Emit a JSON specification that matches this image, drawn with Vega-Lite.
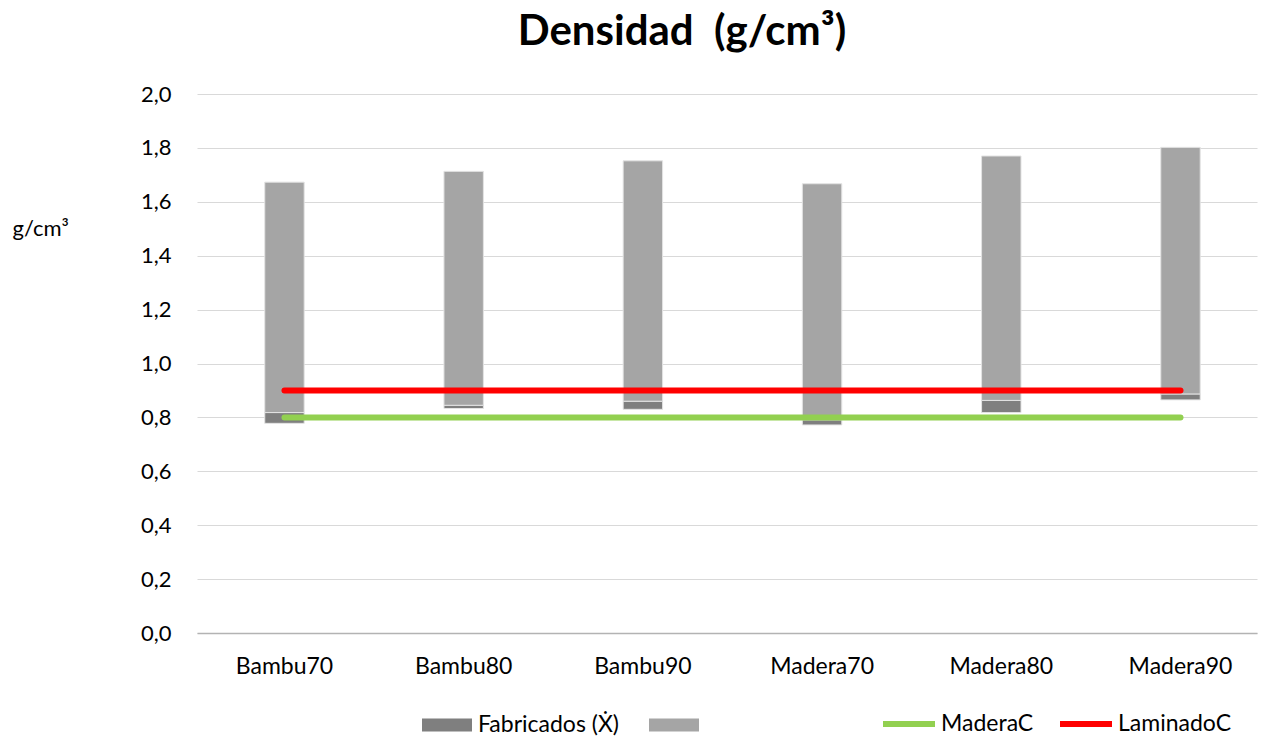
{
  "$schema": "https://vega.github.io/schema/vega-lite/v6.json",
  "width": 1060,
  "height": 539,
  "autosize": {"type": "none"},
  "padding": {"left": 197, "top": 94, "right": 8, "bottom": 108},
  "background": "white",
  "title": {
    "text": "Densidad\u00a0\u00a0(g/cm³)",
    "font": "Lato",
    "fontSize": 42,
    "fontWeight": "bold",
    "color": "#000000",
    "anchor": "middle",
    "frame": "group",
    "baseline": "alphabetic",
    "offset": 42,
    "dx": -45,
    "dy": 46
  },
  "config": {
    "view": {"stroke": null},
    "font": "Lato",
    "axis": {"labelFont": "Lato", "titleFont": "Lato", "labelColor": "#000000", "titleColor": "#000000"},
    "legend": {"labelFont": "Lato", "labelColor": "#000000"}
  },
  "datasets": {
    "bars": [
      {"muestra": "Bambu70", "serie": "Fabricados (Ẋ)", "desde": 0.778, "hasta": 0.818},
      {"muestra": "Bambu70", "serie": " ", "desde": 0.818, "hasta": 1.673},
      {"muestra": "Bambu80", "serie": "Fabricados (Ẋ)", "desde": 0.833, "hasta": 0.845},
      {"muestra": "Bambu80", "serie": " ", "desde": 0.845, "hasta": 1.713},
      {"muestra": "Bambu90", "serie": "Fabricados (Ẋ)", "desde": 0.830, "hasta": 0.860},
      {"muestra": "Bambu90", "serie": " ", "desde": 0.860, "hasta": 1.752},
      {"muestra": "Madera70", "serie": "Fabricados (Ẋ)", "desde": 0.772, "hasta": 0.791},
      {"muestra": "Madera70", "serie": " ", "desde": 0.791, "hasta": 1.667},
      {"muestra": "Madera80", "serie": "Fabricados (Ẋ)", "desde": 0.818, "hasta": 0.863},
      {"muestra": "Madera80", "serie": " ", "desde": 0.863, "hasta": 1.770},
      {"muestra": "Madera90", "serie": "Fabricados (Ẋ)", "desde": 0.865, "hasta": 0.887},
      {"muestra": "Madera90", "serie": " ", "desde": 0.887, "hasta": 1.802}
    ],
    "lines": [
      {"muestra": "Bambu70", "serie": "MaderaC", "valor": 0.8},
      {"muestra": "Bambu80", "serie": "MaderaC", "valor": 0.8},
      {"muestra": "Bambu90", "serie": "MaderaC", "valor": 0.8},
      {"muestra": "Madera70", "serie": "MaderaC", "valor": 0.8},
      {"muestra": "Madera80", "serie": "MaderaC", "valor": 0.8},
      {"muestra": "Madera90", "serie": "MaderaC", "valor": 0.8},
      {"muestra": "Bambu70", "serie": "LaminadoC", "valor": 0.9},
      {"muestra": "Bambu80", "serie": "LaminadoC", "valor": 0.9},
      {"muestra": "Bambu90", "serie": "LaminadoC", "valor": 0.9},
      {"muestra": "Madera70", "serie": "LaminadoC", "valor": 0.9},
      {"muestra": "Madera80", "serie": "LaminadoC", "valor": 0.9},
      {"muestra": "Madera90", "serie": "LaminadoC", "valor": 0.9}
    ]
  },
  "encoding": {
    "x": {
      "field": "muestra",
      "type": "nominal",
      "sort": ["Bambu70", "Bambu80", "Bambu90", "Madera70", "Madera80", "Madera90"],
      "scale": {"paddingInner": 0.78, "paddingOuter": 0.3475, "align": 0.544},
      "axis": {
        "title": null,
        "labelAngle": 0,
        "labelFontSize": 23,
        "labelPadding": 22,
        "ticks": false,
        "domainColor": "#b3b3b3",
        "domainWidth": 1.5,
        "grid": false
      }
    }
  },
  "layer": [
    {
      "data": {"name": "bars"},
      "mark": {"type": "bar", "stroke": "#e3e3e3", "strokeWidth": 1},
      "encoding": {
        "y": {
          "field": "desde",
          "type": "quantitative",
          "scale": {"domain": [0, 2], "nice": false},
          "axis": {
            "values": [0, 0.2, 0.4, 0.6, 0.8, 1.0, 1.2, 1.4, 1.6, 1.8, 2.0],
            "labelExpr": "replace(format(datum.value, '.1f'), '.', ',')",
            "labelFontSize": 22,
            "labelPadding": 26,
            "ticks": false,
            "domain": false,
            "gridColor": "#d9d9d9",
            "gridWidth": 1,
            "title": "g/cm³",
            "titleAngle": 0,
            "titleAlign": "left",
            "titleBaseline": "alphabetic",
            "titleFontSize": 22,
            "titleFontWeight": "normal",
            "titleX": -185,
            "titleY": 141
          }
        },
        "y2": {"field": "hasta"},
        "fill": {
          "field": "serie",
          "type": "nominal",
          "scale": {"domain": ["Fabricados (Ẋ)", " "], "range": ["#7f7f7f", "#a5a5a5"]},
          "legend": {
            "title": null,
            "orient": "none",
            "direction": "horizontal",
            "legendX": 225,
            "legendY": 606,
            "symbolType": "M-1,-0.26H1V0.26H-1Z",
            "symbolSize": 2500,
            "symbolStrokeWidth": 0,
            "labelFontSize": 23,
            "labelOffset": 6,
            "columnPadding": 30,
            "padding": 0
          }
        }
      }
    },
    {
      "data": {"name": "lines"},
      "mark": {"type": "line", "strokeWidth": 6, "strokeCap": "round"},
      "encoding": {
        "y": {"field": "valor", "type": "quantitative"},
        "stroke": {
          "field": "serie",
          "type": "nominal",
          "scale": {"domain": ["MaderaC", "LaminadoC"], "range": ["#92d050", "#ff0000"]},
          "legend": {
            "title": null,
            "orient": "none",
            "direction": "horizontal",
            "legendX": 683,
            "legendY": 601,
            "symbolType": "stroke",
            "symbolSize": 2704,
            "symbolStrokeWidth": 6,
            "labelFontSize": 23,
            "labelOffset": 3,
            "columnPadding": 14,
            "padding": 0
          }
        }
      }
    }
  ]
}
